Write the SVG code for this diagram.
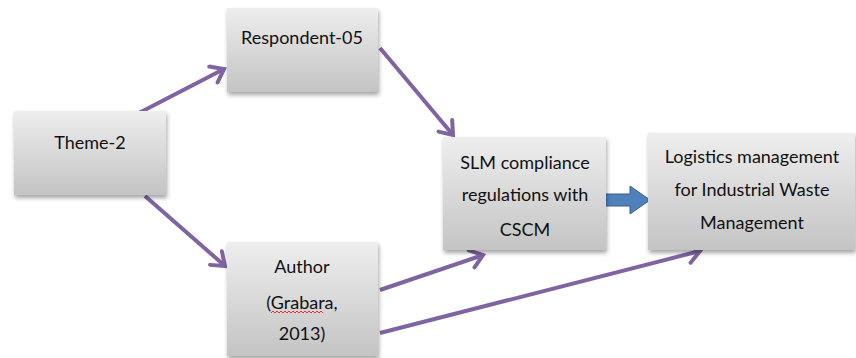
<svg xmlns="http://www.w3.org/2000/svg" width="856" height="358" viewBox="0 0 856 358">
<defs>
<linearGradient id="g" x1="0" y1="0" x2="0" y2="1">
<stop offset="0" stop-color="#eeeeee"/>
<stop offset="1" stop-color="#c4c4c4"/>
</linearGradient>
<filter id="sh" x="-10%" y="-10%" width="125%" height="130%">
<feDropShadow dx="1" dy="3" stdDeviation="2" flood-color="#000" flood-opacity="0.35"/>
</filter>
<marker id="ah" markerUnits="userSpaceOnUse" markerWidth="22" markerHeight="22" viewBox="0 0 22 22" refX="16" refY="11" orient="auto">
<path d="M4,2 L16,11 L4,20" fill="none" stroke="#8064a2" stroke-width="4" stroke-linecap="round" stroke-linejoin="miter"/>
</marker>
</defs>
<style>
.box{fill:url(#g);filter:url(#sh);}
.t{font-family:Lato,"Open Sans","Liberation Sans",sans-serif;font-size:18px;fill:#111;text-anchor:middle;}
.c{stroke:#8064a2;stroke-width:4;fill:none;marker-end:url(#ah);}
</style>
<g id="connectors">
<line class="c" x1="137" y1="114" x2="224" y2="69"/>
<line class="c" x1="380" y1="48" x2="453" y2="135"/>
<line class="c" x1="145" y1="196" x2="225" y2="266"/>
<line class="c" x1="380" y1="290" x2="483" y2="255"/>
<line class="c" x1="380" y1="333" x2="700" y2="251"/>
<path d="M605,194 L630,194 L630,186 L650,200 L630,214 L630,206 L605,206 Z" fill="#4f81bd" stroke="#385d8a" stroke-width="1"/>
</g>
<g id="respondent">
<rect class="box" x="227" y="8" width="151" height="84"/>
<text class="t" x="302" y="44">Respondent-05</text>
</g>
<g id="theme">
<rect class="box" x="14" y="111" width="152" height="84"/>
<text class="t" x="90" y="149">Theme-2</text>
</g>
<g id="author">
<rect class="box" x="227" y="242" width="151" height="114"/>
<text class="t" x="302" y="273">Author</text>
<text class="t" x="302" y="309">(Grabara,</text>
<text class="t" x="302" y="340">2013)</text>
<path d="M271,313 l2,-2 l2,2 l2,-2 l2,2 l2,-2 l2,2 l2,-2 l2,2 l2,-2 l2,2 l2,-2 l2,2 l2,-2 l2,2 l2,-2 l2,2 l2,-2 l2,2 l2,-2 l2,2 l2,-2 l2,2 l2,-2 l2,2 l2,-2 l2,2" fill="none" stroke="#e03030" stroke-width="1"/>
</g>
<g id="slm">
<rect class="box" x="443" y="137" width="163" height="113"/>
<text class="t" x="525" y="169">SLM compliance</text>
<text class="t" x="525" y="201">regulations with</text>
<text class="t" x="525" y="236">CSCM</text>
</g>
<g id="logistics">
<rect class="box" x="648" y="133" width="207" height="117"/>
<text class="t" x="752" y="163">Logistics management</text>
<text class="t" x="752" y="196">for Industrial Waste</text>
<text class="t" x="752" y="229">Management</text>
</g>
</svg>
